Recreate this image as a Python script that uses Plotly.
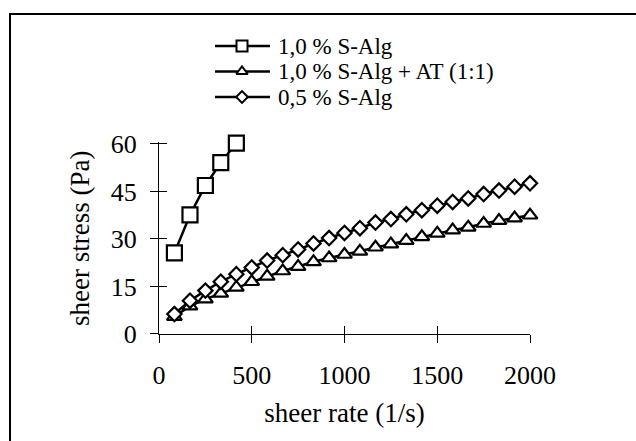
import plotly.graph_objects as go

# ---- data ----
shear_rate = [83, 167, 250, 333, 417, 500, 583, 667, 750, 833, 917, 1000,
              1083, 1167, 1250, 1333, 1417, 1500, 1583, 1667, 1750, 1833, 1917, 2000]
alg10_rate = [83, 167, 250, 333, 417]
alg10_stress = [25.6, 37.6, 46.9, 54.1, 60.3]
alg10_at_stress = [5.5, 8.8, 11.0, 12.8, 14.7, 16.5, 18.2, 19.9, 21.3, 22.8, 24.0, 25.1,
                   26.1, 27.4, 28.4, 29.5, 30.7, 31.8, 32.8, 33.7, 34.9, 35.8, 36.6, 37.5]
alg05_stress = [6.3, 10.5, 13.7, 16.5, 18.9, 21.0, 23.2, 24.9, 26.7, 28.6, 30.3, 31.9,
                33.4, 35.2, 36.3, 37.8, 39.1, 40.5, 41.7, 42.8, 44.2, 45.3, 46.5, 47.6]
series_names = ["1,0 % S-Alg", "1,0 % S-Alg + AT (1:1)", "0,5 % S-Alg"]
x_ticks = [0, 500, 1000, 1500, 2000]
y_ticks = [0, 15, 30, 45, 60]

FONT = "Liberation Serif, Times New Roman, serif"
FS_TICK = 26
FS_TITLE = 27
FS_LEG = 23
W, H = 636, 441
# plot area in pixels (x: 0..2000, y: 0..60)
PL, PR, PT, PB = 159, 530, 144, 334
Y_TOP = 60.5                      # a little headroom so the last marker shows
PX_PER_Y = (PB - PT) / 60.0
PT_EXT = PB - Y_TOP * PX_PER_Y

fig = go.Figure()

def mk(symbol, size):
    return dict(symbol=symbol, size=size, color="white",
                line=dict(color="black", width=2.2))

specs = [
    (alg10_rate, alg10_stress, "square", 15),
    (shear_rate, alg10_at_stress, "triangle-up", 13),
    (shear_rate, alg05_stress, "diamond", 11),
]
for (xs, ys, sym, sz), name in zip(specs, series_names):
    fig.add_trace(go.Scatter(x=xs, y=ys, mode="lines+markers", name=name,
                             line=dict(color="black", width=2.5),
                             marker=mk(sym, sz), cliponaxis=False,
                             showlegend=False))

# empty trace to carry the overlay axes (inner half of the crossing ticks)
fig.add_trace(go.Scatter(x=[], y=[], xaxis="x2", yaxis="y2", showlegend=False,
                         hoverinfo="skip"))

# custom legend drawn on a full-figure pixel axis
legend_rows = [46, 71.5, 97]
leg_sym = [("square", 11), ("triangle-up", 10), ("diamond", 9)]
for (sym, sz), yrow, name in zip(leg_sym, legend_rows, series_names):
    fig.add_trace(go.Scatter(x=[215, 270], y=[yrow, yrow], mode="lines",
                             line=dict(color="black", width=2.5),
                             xaxis="x3", yaxis="y3", showlegend=False,
                             hoverinfo="skip"))
    fig.add_trace(go.Scatter(x=[242], y=[yrow], mode="markers",
                             marker=dict(symbol=sym, size=sz, color="white",
                                         line=dict(color="black", width=2)),
                             xaxis="x3", yaxis="y3", showlegend=False,
                             hoverinfo="skip"))
    fig.add_annotation(x=277, y=yrow, xref="x3", yref="y3", text=name,
                       showarrow=False, xanchor="left", yanchor="middle",
                       borderpad=0,
                       font=dict(family=FONT, size=FS_LEG, color="black"))

axis_common = dict(showgrid=False, zeroline=False, color="black",
                   tickfont=dict(family=FONT, size=FS_TICK, color="black"))

fig.update_layout(
    width=W, height=H,
    margin=dict(l=0, r=0, t=0, b=0),
    paper_bgcolor="white", plot_bgcolor="rgba(0,0,0,0)",
    font=dict(family=FONT, size=FS_TICK, color="black"),
    xaxis=dict(domain=[PL / W, PR / W], range=[0, 2000], tickvals=x_ticks,
               ticks="outside", ticklen=8, tickwidth=1, tickcolor="black",
               showline=True, linecolor="black", linewidth=1,
               ticklabelstandoff=10, automargin=False, anchor="y",
               title=dict(text="sheer rate (1/s)", standoff=13,
                          font=dict(family=FONT, size=FS_TITLE, color="black")),
               **axis_common),
    yaxis=dict(domain=[1 - PB / H, 1 - PT_EXT / H], range=[0, Y_TOP],
               tickvals=y_ticks,
               ticks="outside", ticklen=8, tickwidth=1, tickcolor="black",
               showline=True, linecolor="black", linewidth=1,
               ticklabelstandoff=8, automargin=False, anchor="x",
               title=dict(text="sheer stress (Pa)", standoff=13,
                          font=dict(family=FONT, size=FS_TITLE, color="black")),
               **axis_common),
    xaxis2=dict(overlaying="x", anchor="y2", range=[0, 2000], tickvals=x_ticks,
                ticks="inside", ticklen=8, tickwidth=1, tickcolor="black",
                showticklabels=False, showline=False, showgrid=False,
                zeroline=False, automargin=False),
    yaxis2=dict(overlaying="y", anchor="x2", side="left", range=[0, Y_TOP],
                tickvals=y_ticks, ticks="inside", ticklen=8, tickwidth=1,
                tickcolor="black", showticklabels=False, showline=False,
                showgrid=False, zeroline=False, automargin=False),
    xaxis3=dict(domain=[0, 1], range=[0, W], visible=False, anchor="y3",
                fixedrange=True),
    yaxis3=dict(domain=[0, 1], range=[H, 0], visible=False, anchor="x3",
                fixedrange=True),
    shapes=[dict(type="rect", xref="paper", yref="paper",
                 x0=10 / W, x1=1.05, y0=-0.05, y1=1 - 14 / H,
                 line=dict(color="black", width=2), fillcolor="rgba(0,0,0,0)")],
)

fig.write_html("out.html")
